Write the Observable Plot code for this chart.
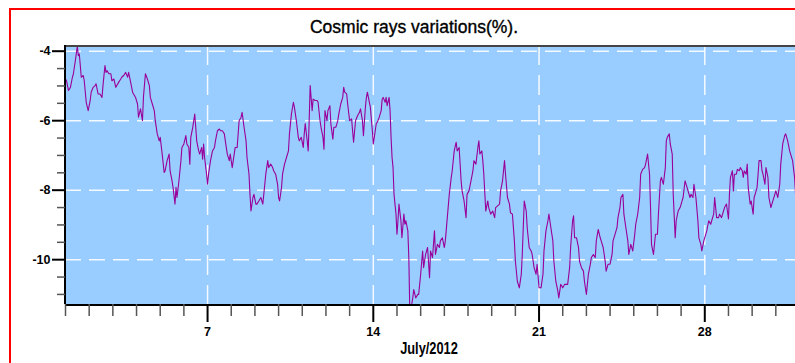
<!DOCTYPE html>
<html><head><meta charset="utf-8">
<script src="https://cdn.jsdelivr.net/npm/d3@7"></script>
<script src="https://cdn.jsdelivr.net/npm/@observablehq/plot@0.6"></script>
<style>
html,body{margin:0;padding:0;overflow:hidden;background:#fff;width:795px;height:363px;}
#frame{position:absolute;left:9px;top:8px;width:900px;height:500px;border-left:2px solid #f00;border-top:2px solid #f00;}
#chart{position:absolute;left:0;top:0;}
#title{position:absolute;left:0;top:17px;width:828px;text-align:center;font:17.5px "Liberation Sans",Arial,sans-serif;line-height:20px;color:#000;-webkit-text-stroke:0.35px #000;}
#xlabel{position:absolute;left:379px;top:340px;width:100px;text-align:center;font:bold 16px "Liberation Sans",Arial,sans-serif;line-height:18px;color:#000;transform:scaleX(0.8);transform-origin:50% 50%;}
</style></head>
<body>
<div id="frame"></div>
<div id="chart"></div>
<div id="title">Cosmic rays variations(%).</div>
<div id="xlabel">July/2012</div>
<script>
// hours since 1 July 2012 00:00
const hours = [0,1,3,5,7,8,10,12,13,14,16,18,19,21,23,25,26,28,30,31,33,35,37,38,40,41,42,44,46,47,49,51,52,54,56,57,59,61,63,64,66,68,69,71,73,74,76,78,79,81,83,85,86,88,90,91,93,95,96,98,100,101,103,105,106,108,109,111,112,113,115,117,118,120,122,123,125,126,
127,129,131,132,133,135,136,138,139,140,141,143,144,145,147,149,151,152,154,156,157,159,161,162,164,166,167,169,171,172,174,176,178,179,181,183,184,186,187,188,190,191,193,194,196,198,200,201,203,205,206,208,210,211,213,215,216,217,219,220,222,224,226,227,229,231,232,234,236,237,239,241,242,243,245,246,247,248,250,251,253,
255,256,258,259,261,262,263,265,266,268,269,271,272,274,276,277,279,281,282,283,285,286,288,290,291,292,294,296,298,299,301,302,304,305,306,308,309,311,312,313,315,316,318,320,321,322,324,325,326,328,329,330,331,332,333,335,336,337,338,340,341,343,344,345,347,348,349,350,352,353,355,357,358,360,362,363,365,367,369,370,372,374,375,377,379,
380,382,384,385,387,389,391,392,394,396,397,399,401,402,404,406,407,409,411,413,414,416,418,419,420,422,423,424,426,428,429,431,433,435,436,438,440,441,443,445,446,448,450,451,453,455,456,458,460,462,463,465,467,468,470,472,473,475,477,478,480,482,484,485,487,489,490,492,494,495,497,499,500,502,504,506,
509,511,512,514,515,516,518,520,521,523,525,526,528,530,532,533,535,537,538,540,542,543,545,547,548,550,552,554,555,557,559,560,562,563,565,566,568,570,571,573,575,577,578,580,582,583,585,587,588,590,592,593,594,596,598,600,601,603,604,606,608,609,610,612,613,615,616,618,619,621,623,625,626,628,630,631,633,
634,636,637,639,641,642,644,645,647,649,650,652,654,655,657,658,660,662,663,665,667,668,670,672,673,674,676,677,678,680,681,683,684,686,687,688,690,691,692,694,695,697,698,699,701,702,703,705,706,707,709,710,712,713,715,717,719,720,722,724,725,727,729,730,732,734,735,737,739,740,743];
const values = [-4.80,-4.85,-5.13,-5.04,-4.75,-4.65,-4.27,-3.85,-4.13,-4.08,-4.75,-4.70,-4.85,-5.47,-5.71,-5.42,-5.18,-5.04,-4.99,-4.94,-5.23,-5.23,-5.33,-4.99,-4.41,-4.61,-4.56,-4.65,-4.65,-4.85,-4.80,-5.04,-4.99,-4.89,-4.80,-4.75,-4.70,-4.61,-4.75,-4.61,-4.89,-5.18,-5.23,-5.33,-5.52,-5.90,-5.66,-6.00,-5.33,-4.65,-4.80,-4.99,-5.33,-5.52,-5.71,-6.00,-6.38,-6.58,-6.48,-6.96,-7.49,-7.44,-7.15,-6.96,-7.44,-7.73,-7.92,-8.40,-7.92,-8.21,-7.73,-7.15,-6.77,-6.67,-6.43,-6.67,-6.77,-7.25,
-6.48,-6.19,-5.81,-6.19,-6.58,-6.87,-6.96,-6.77,-7.11,-6.67,-7.06,-7.54,-7.83,-7.54,-7.15,-6.87,-6.77,-6.58,-6.29,-6.24,-6.29,-6.29,-6.38,-6.58,-6.96,-7.15,-6.96,-7.35,-6.96,-6.77,-6.77,-6.00,-5.90,-5.76,-6.19,-6.58,-7.06,-7.54,-8.12,-8.60,-8.21,-8.12,-8.40,-8.40,-8.31,-8.21,-8.40,-8.12,-7.54,-7.15,-7.35,-7.25,-7.35,-7.44,-7.54,-7.83,-8.21,-8.31,-7.92,-7.54,-7.25,-7.06,-6.87,-6.38,-5.81,-5.47,-5.61,-6.00,-6.48,-6.58,-6.48,-6.77,-6.38,-6.08,-6.58,-6.87,-6.00,-4.99,-5.71,-5.38,-5.42,
-5.42,-5.47,-6.00,-6.19,-6.48,-6.82,-5.71,-6.00,-5.71,-5.57,-6.10,-6.53,-6.19,-6.19,-6.00,-5.81,-5.52,-5.33,-5.04,-5.18,-5.23,-5.52,-6.00,-5.95,-6.29,-6.62,-6.00,-5.86,-5.76,-5.66,-6.00,-6.43,-5.61,-5.33,-5.18,-5.47,-5.61,-6.29,-6.67,-6.48,-6.08,-6.05,-5.90,-5.71,-5.38,-5.33,-5.47,-5.33,-5.57,-5.33,-5.71,-6.48,-7.06,-7.35,-8.12,-8.69,-9.27,-8.88,-8.40,-8.88,-9.37,-8.69,-8.98,-8.88,-9.17,-9.94,-11.50,-11.45,-11.10,-10.86,-11.10,-11.00,-11.00,-10.42,-9.75,-10.23,-9.85,-9.65,-10.52,-9.75,-9.94,-9.17,-9.85,-9.56,-9.65,
-9.46,-9.37,-9.65,-9.46,-8.79,-8.12,-7.63,-7.44,-6.87,-6.62,-6.87,-6.77,-7.73,-8.02,-8.31,-8.79,-8.12,-8.02,-7.73,-7.44,-7.15,-7.25,-6.77,-6.58,-6.96,-6.87,-7.15,-7.54,-8.60,-8.31,-8.50,-8.69,-8.60,-8.79,-8.50,-8.45,-8.40,-8.02,-7.73,-7.15,-7.54,-8.21,-8.40,-8.65,-8.69,-9.46,-10.04,-10.62,-10.81,-10.42,-9.85,-8.31,-8.60,-9.08,-9.65,-9.75,-9.85,-10.23,-10.42,-10.13,-10.81,-10.81,-10.42,-9.75,-9.17,-8.88,-8.69,-9.08,-9.46,-10.04,-10.62,-10.90,-11.10,-10.71,-10.81,-10.71,
-10.71,-10.23,-9.65,-8.88,-8.74,-9.37,-9.37,-9.65,-10.04,-10.23,-10.33,-10.62,-11.00,-10.42,-10.13,-9.94,-9.85,-9.94,-9.46,-9.13,-9.37,-9.46,-9.65,-10.04,-10.33,-10.13,-10.13,-9.85,-9.46,-9.27,-9.08,-8.79,-8.50,-8.21,-8.12,-8.69,-9.08,-9.46,-9.85,-9.56,-9.75,-9.27,-8.98,-8.69,-8.21,-7.54,-7.40,-7.35,-7.25,-6.96,-7.54,-8.50,-9.56,-9.85,-9.27,-9.27,-8.69,-7.73,-7.63,-7.83,-7.35,-6.58,-6.48,-6.38,-6.67,-6.96,-8.12,-9.37,-8.88,-8.60,-8.50,-8.31,-8.21,-7.73,-7.92,-8.02,-8.21,
-8.12,-8.21,-7.83,-8.21,-8.88,-9.37,-9.56,-9.75,-9.46,-9.27,-9.17,-8.88,-8.98,-8.88,-8.69,-8.21,-8.79,-8.79,-8.69,-8.79,-8.60,-8.50,-8.40,-8.83,-8.12,-7.63,-7.44,-8.02,-7.54,-7.54,-7.40,-7.44,-7.35,-7.44,-7.63,-7.44,-7.54,-7.25,-7.92,-8.40,-8.31,-8.69,-8.21,-8.12,-7.92,-7.54,-7.15,-7.15,-7.44,-7.54,-7.83,-7.35,-7.63,-8.21,-8.50,-8.31,-8.12,-8.02,-8.21,-7.83,-7.25,-6.67,-6.43,-6.38,-6.58,-6.87,-6.96,-7.15,-7.63,-8.12,-8.40];

const xDomain = [1, 32];               // days of July 2012
const yDomain = [-11.29, -3.836];      // %
const xMajorTicks = [7, 14, 21, 28];
const xMinorTicks = [1,2,3,4,5,6,8,9,10,11,12,13,15,16,17,18,19,20,22,23,24,25,26,27,29,30,31,32];
const yMajorTicks = [-4, -6, -8, -10];
const yMinorTicks = [-4.5,-5,-5.5,-6.5,-7,-7.5,-8.5,-9,-9.5,-10.5,-11];

const data = hours.map((h, i) => ({day: 1 + h / 24, v: values[i]}));

const chart = Plot.plot({
  width: 799, height: 363,
  marginLeft: 65, marginRight: 0, marginTop: 45, marginBottom: 59,
  style: {background: "transparent", maxWidth: "none", overflow: "visible",
          fontFamily: "'Liberation Sans', Arial, sans-serif", fontSize: "12.5px", fontWeight: "bold", color: "black"},
  x: {domain: xDomain, label: null},
  y: {domain: yDomain, label: null},
  marks: [
    Plot.frame({fill: "#99ccff", stroke: null}),
    Plot.ruleY(yMajorTicks, {stroke: "white", strokeOpacity: 0.9, strokeWidth: 1.5, strokeDasharray: "16,8"}),
    Plot.ruleX(xMajorTicks, {stroke: "white", strokeOpacity: 0.9, strokeWidth: 1.5, strokeDasharray: "20,10"}),
    Plot.line(data, {x: "day", y: "v", stroke: "#990099", strokeWidth: 1.1, clip: true}),
    Plot.ruleY([yDomain[1]], {stroke: "#444", strokeWidth: 2, dy: 0.5}),
    Plot.ruleX([xDomain[0]], {stroke: "black", strokeWidth: 2, dx: -0.5}),
    Plot.ruleY([yDomain[0]], {stroke: "black", strokeWidth: 2, dy: 0.5}),
    Plot.axisY(yMinorTicks, {label: null, tickSize: 8, tickFormat: () => "", stroke: "#555", strokeWidth: 1.5}),
    Plot.axisY(yMajorTicks, {label: null, tickSize: 13, tickPadding: 2, stroke: "black", strokeWidth: 2, tickFormat: d => String(d)}),
    Plot.axisX(xMinorTicks, {label: null, tickSize: 12, tickFormat: () => "", stroke: "#555", strokeWidth: 1.5}),
    Plot.axisX(xMajorTicks, {label: null, tickSize: 18, tickPadding: 5, stroke: "black", strokeWidth: 2, tickFormat: d => String(d)})
  ]
});
document.getElementById("chart").appendChild(chart);
</script>
</body></html>
